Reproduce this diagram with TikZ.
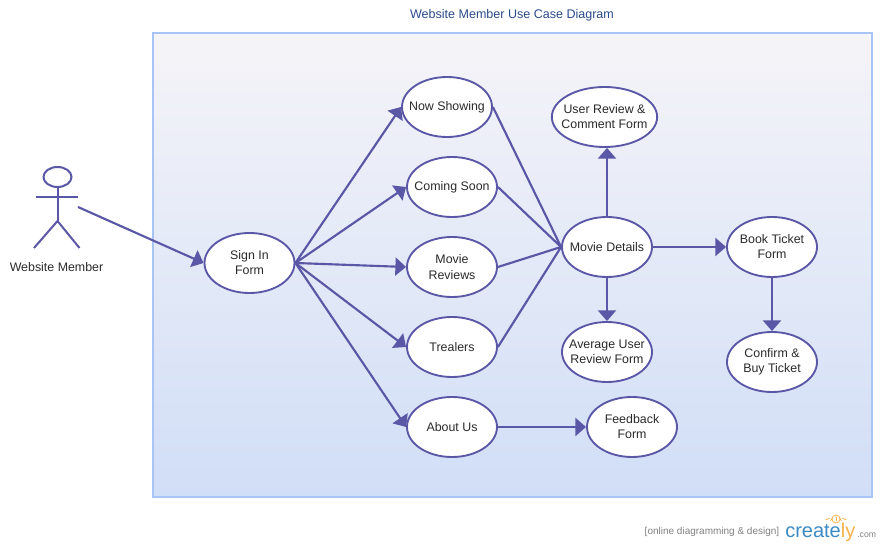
\documentclass[tikz,border=0pt]{standalone}
\usepackage{fontspec}
\setmainfont{Liberation Sans}
\usepackage{xcolor}
\usetikzlibrary{arrows.meta}
\usetikzlibrary{shapes,positioning,calc}
\definecolor{umlLine}{HTML}{5A57A6}
\definecolor{umlFrame}{HTML}{A9C5F5}
\definecolor{umlTop}{HTML}{F5F4F8}
\definecolor{umlBottom}{HTML}{D1DEF7}
\definecolor{umlTitle}{HTML}{2B4A8B}
\definecolor{umlText}{HTML}{2A2A2A}
\definecolor{logoBlue}{HTML}{3B8AC4}
\definecolor{logoOrange}{HTML}{F5B24A}
\tikzset{
	usecase/.style={ellipse, draw=umlLine, line width=1.4pt, fill=white, minimum width=67.5pt, minimum height=45pt, inner sep=-8pt, align=center, text=umlText, font=\fontsize{9.3}{11.2}\selectfont},
	link/.style={draw=umlLine, line width=1.6pt},
	arrowlink/.style={link, -{Triangle[length=8pt,width=13.5pt]}},
	actorline/.style={draw=umlLine, line width=1.5pt},
}
\begin{document}
\begin{tikzpicture}[x=0.75pt, y=-0.75pt]
	\useasboundingbox (0,0) rectangle (883,548);
	\node[text=umlTitle, font=\fontsize{9.4}{11}\selectfont] (title) at (512,15) {Website Member Use Case Diagram};
	\node[draw=umlFrame, line width=1.3pt, top color=umlTop, bottom color=umlBottom, minimum width=539pt, minimum height=348pt, inner sep=0pt] (frame) at (512.5,265) {};
	% actor
	\node[ellipse, draw=umlLine, line width=1.5pt, minimum width=21pt, minimum height=15pt, inner sep=0pt] (head) at (57.5,177) {};
	\coordinate (hip) at (57.5,221);
	\coordinate (armL) at (36,197);
	\coordinate (armR) at (78,197);
	\coordinate (legL) at (34,248);
	\coordinate (legR) at (79.5,248);
	\coordinate (actorout) at (78,207);
	\draw[actorline] (head.south) -- (hip);
	\draw[actorline] (armL) -- (armR);
	\draw[actorline] (legL) -- (hip) -- (legR);
	\node[text=umlText, font=\fontsize{9.3}{11}\selectfont] (member) at (56.5,267) {Website Member};
	% use cases
	\node[usecase] (signin) at (249.5,263) {Sign In\\Form};
	\node[usecase] (showing) at (447,107) {Now Showing};
	\node[usecase] (soon) at (452,187) {Coming Soon};
	\node[usecase] (reviews) at (452,267) {Movie\\[1pt]Reviews};
	\node[usecase] (trailers) at (452,347) {Trealers};
	\node[usecase] (about) at (452,427) {About Us};
	\node[usecase] (feedback) at (632,427) {Feedback\\Form};
	\node[usecase, minimum width=79pt] (comment) at (604.5,117) {User Review \&\\Comment Form};
	\node[usecase] (details) at (607,247) {Movie Details};
	\node[usecase] (average) at (607,352) {Average User\\Review Form};
	\node[usecase] (book) at (772,247) {Book Ticket\\Form};
	\node[usecase] (confirm) at (772,362) {Confirm \&\\Buy Ticket};
	% connectors
	\draw[arrowlink] (actorout) -- (signin.west);
	\foreach \target in {showing,soon,reviews,trailers,about}
		\draw[arrowlink] (signin.east) -- (\target.west);
	\foreach \source in {showing,soon,reviews,trailers}
		\draw[link] (\source.east) -- (details.west);
	\draw[arrowlink] (about) -- (feedback);
	\draw[arrowlink] (details) -- (comment.south -| details);
	\draw[arrowlink] (details) -- (average);
	\draw[arrowlink] (details) -- (book);
	\draw[arrowlink] (book) -- (confirm);
	% logo
	\node[text=gray, font=\fontsize{7.5}{9}\selectfont] (tagline) at (712,532) {[online diagramming \& design]};
	\node[text=logoBlue, font=\fontsize{15}{18}\selectfont, inner sep=0pt, anchor=base west] (creately) at (785,538) {create\textcolor{logoOrange}{ly}};
	\node[text=gray, font=\fontsize{6.5}{8}\selectfont, inner sep=0pt, anchor=base west] (dotcom) at (857,538) {.com};
	\node[circle, draw=logoOrange, line width=0.6pt, minimum size=6pt, inner sep=0pt] (bulb) at (836,519) {};
	\foreach \a in {20,60,90,120,160}
		\draw[logoOrange, line width=0.6pt] (bulb.\a) ++(\a:2.5) -- ++(\a:4);
\end{tikzpicture}
\end{document}
